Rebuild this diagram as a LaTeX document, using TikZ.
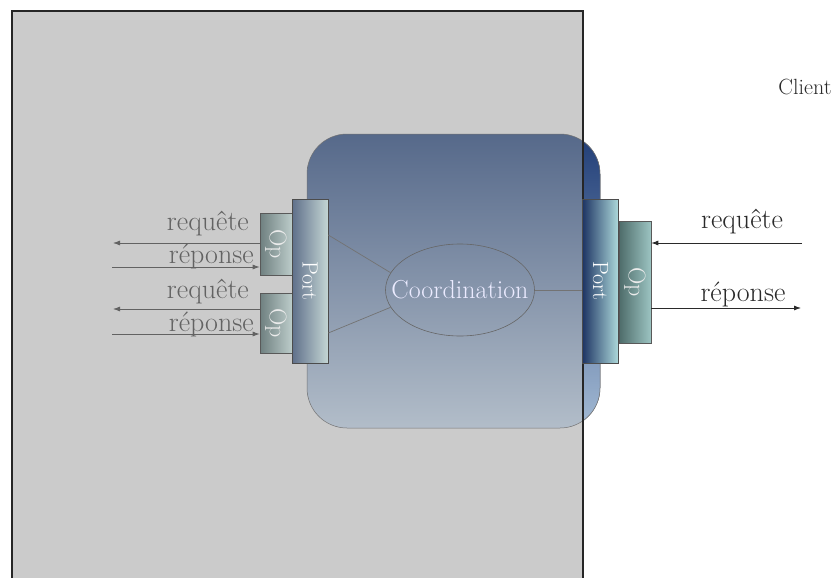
\documentclass[tikz,border=0pt]{standalone}
\usepackage{xcolor}
\usepackage{tikz}
\usetikzlibrary{arrows.meta,positioning,calc,shapes.geometric}
\definecolor{boxgray}{HTML}{CBCBCB}
\definecolor{innertop}{HTML}{56698A}
\definecolor{innerbot}{HTML}{B2BDC9}
\definecolor{outertop}{HTML}{213E77}
\definecolor{outerbot}{HTML}{A2B9D3}
\definecolor{lportdark}{HTML}{5F6F8A}
\definecolor{lportlight}{HTML}{C4D6D4}
\definecolor{rportdark}{HTML}{1E3564}
\definecolor{rportlight}{HTML}{AEDADB}
\definecolor{lopdark}{HTML}{6F8080}
\definecolor{loplight}{HTML}{BCCCCA}
\definecolor{ropdark}{HTML}{4E6C6A}
\definecolor{roplight}{HTML}{9CC4C2}
\definecolor{labelgray}{HTML}{626262}
\definecolor{labeldark}{HTML}{2A2A2A}

\tikzset{
  portbox/.style={draw=black!70, line width=0.6pt, rotate=-90, minimum height=36pt,
    inner sep=0pt, text=white, font=\fontsize{22}{24}\selectfont},
  opbox/.style={draw=black!65, line width=0.6pt, rotate=-90, minimum height=32pt,
    inner sep=0pt, text=white!92!black, font=\fontsize{24}{26}\selectfont},
  msg/.style={font=\fontsize{28}{30}\selectfont, inner sep=0pt},
  arr/.style={-{Latex[length=7pt,width=5pt]}, line width=0.8pt},
}

\begin{document}
\begin{tikzpicture}[x=1pt,y=-1pt]
\clip (0,0) rectangle (838,578);

% component frame
\fill[boxgray] (12,11) rectangle (583,600);

% coordination block, the part outside the frame is darker
\path[top color=innertop, bottom color=innerbot, draw=black!55, line width=0.5pt, rounded corners=40pt]
  (307,134) rectangle (600,428);
\begin{scope}
  \clip (583,0) rectangle (838,578);
  \path[top color=outertop, bottom color=outerbot, draw=black!55, line width=0.5pt, rounded corners=40pt]
    (307,134) rectangle (600,428);
\end{scope}
\draw[line width=1.2pt, black!85] (12,600) -- (12,11) -- (583,11) -- (583,600);

\node[ellipse, draw=black!60, line width=0.6pt, minimum width=149pt, minimum height=92pt, inner sep=0pt,
  label={[text=white!92!blue, font=\fontsize{26}{28}\selectfont]center:Coordination}] (coord) at (460,290) {};

% ports and operations
\node[opbox, minimum width=62pt, left color=lopdark, right color=loplight] (lop1) at (276,244) {Op};
\node[opbox, minimum width=60pt, left color=lopdark, right color=loplight] (lop2) at (276,323) {Op};
\node[portbox, minimum width=164pt, left color=lportdark, right color=lportlight] (lport) at (310,281) {Port};
\node[opbox, minimum width=122pt, left color=ropdark, right color=roplight] (rop) at (635,282) {Op};
\node[portbox, minimum width=164pt, left color=rportdark, right color=rportlight] (rport) at (600.5,281) {Port};

\draw[black!55, line width=0.7pt] ([yshift=46pt]lport.north) -- (coord.166);
\draw[black!55, line width=0.7pt] ([yshift=-52pt]lport.north) -- (coord.194);
\draw[black!55, line width=0.7pt] (coord.east) -- (coord.east -| rport.south);

% left side messages
\coordinate (lq1) at (113,243);
\coordinate (lr1) at (112,267);
\coordinate (lq2) at (113,309);
\coordinate (lr2) at (112,334);
\draw[arr, labelgray] (lq1 -| lop1.south) -- (lq1);
\draw[arr, labelgray] (lr1) -- (lr1 -| lop1.south);
\draw[arr, labelgray] (lq2 -| lop2.south) -- (lq2);
\draw[arr, labelgray] (lr2) -- (lr2 -| lop2.south);
\node[msg, text=labelgray, anchor=east] (lqt1) at (249,224) {requête};
\node[msg, text=labelgray, anchor=east] (lrt1) at (254,256) {réponse};
\node[msg, text=labelgray, anchor=east] (lqt2) at (249,292) {requête};
\node[msg, text=labelgray, anchor=east] (lrt2) at (254,324) {réponse};

% right side messages
\coordinate (rq) at (802,243);
\coordinate (rr) at (801,308);
\draw[arr, labeldark] (rq) -- (rq -| rop.north);
\draw[arr, labeldark] (rr -| rop.north) -- (rr);
\node[msg, text=labeldark] (rqt) at (742,222) {requête};
\node[msg, text=labeldark] (rrt) at (743,294) {réponse};

\node[font=\fontsize{22}{24}\selectfont, text=labeldark] (client) at (805,87) {Client};
\end{tikzpicture}
\end{document}
